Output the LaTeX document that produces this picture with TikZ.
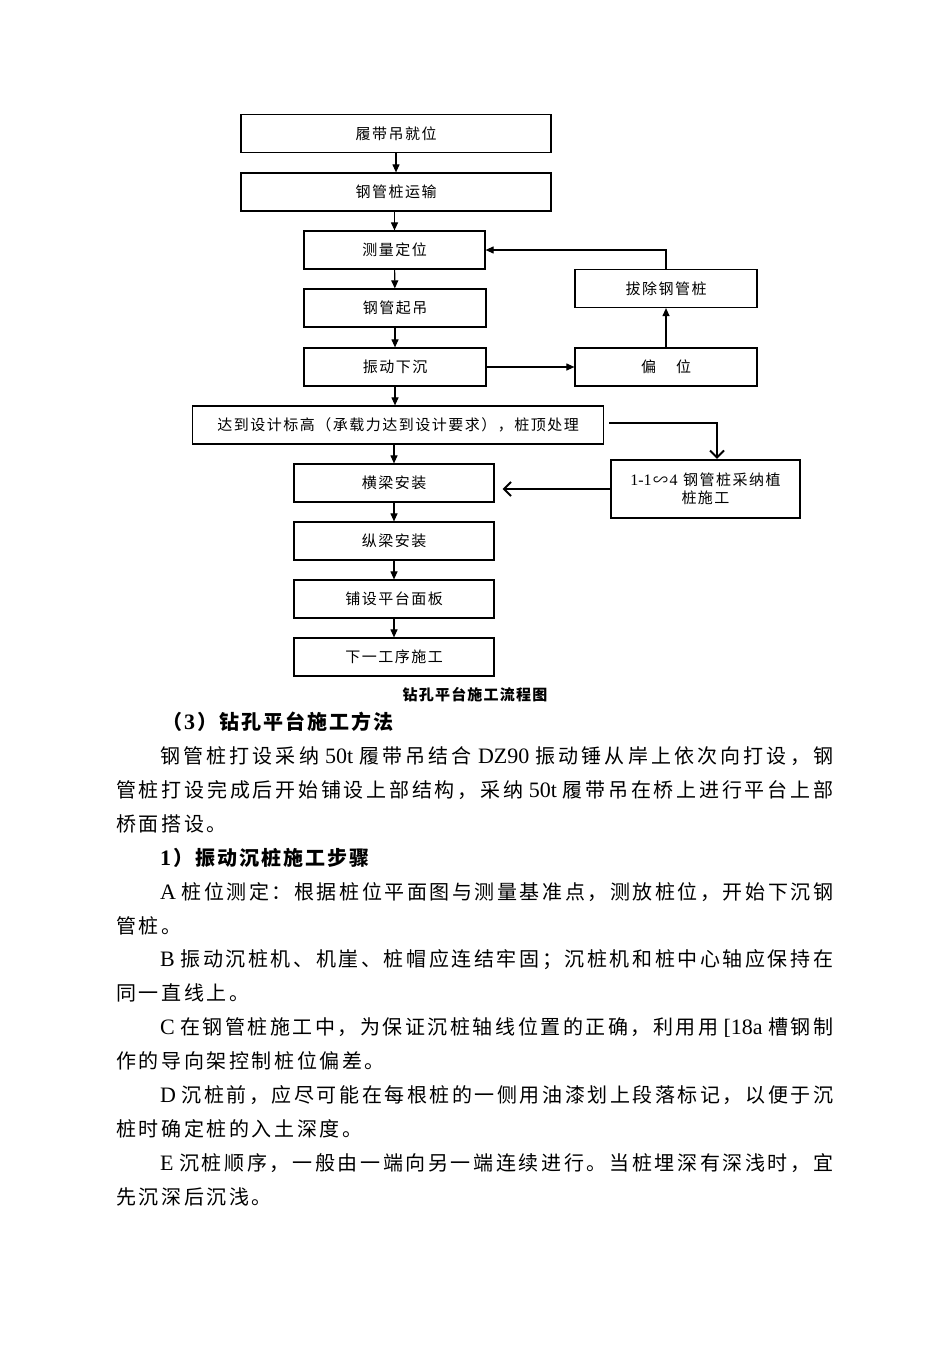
\documentclass[tikz,border=0pt]{standalone}
\usepackage{fontspec}
\setmainfont{Noto Sans CJK SC}
\newfontfamily\lat{Liberation Serif}
\newcommand\latx[1]{{\lat\fontsize{22}{24}\selectfont #1}}
\usetikzlibrary{arrows.meta}
\makeatletter
\def\spreadline#1{\spr@a#1\spr@end}
\def\spr@a#1{#1\spr@b}
\def\spr@endm{\spr@end}
\def\spr@b#1{\def\spr@tmp{#1}\ifx\spr@tmp\spr@endm\else\spreadglue#1\expandafter\spr@b\fi}
\makeatother
\newcommand\gapline[2]{{\def\spreadglue{\hskip#1\relax}\spreadline{#2}}}
\newcommand\jline[2]{\hbox to #1{\def\spreadglue{\hskip0pt plus 1fil\relax}\spreadline{#2}}}
\tikzset{
  box/.style={draw, line width=1.2pt, minimum height=38pt, inner sep=0pt,
    font=\fontsize{15}{19}\selectfont, align=center},
  arr/.style={line width=1.1pt, -{Triangle[length=8pt,width=7pt]}},
  barb/.style={line width=1.8pt, -{Straight Barb[length=7pt,width=14pt,line width=2pt]}},
  txt/.style={anchor=base west, inner sep=0pt, font=\fontsize{20}{24}\selectfont},
  head/.style={anchor=base west, inner sep=0pt, font=\fontsize{20}{24}\selectfont\bfseries},
}
\begin{document}
\begin{tikzpicture}[x=1pt,y=-1pt]
\useasboundingbox[fill=white] (0,0) rectangle (950,1346);
% main column
\node[box, minimum width=310pt] (b1) at (396,133.5) {\gapline{1.5pt}{履带吊就位}};
\node[box, minimum width=310pt] (b2) at (396,192) {\gapline{1.5pt}{钢管桩运输}};
\node[box, minimum width=181pt] (b3) at (394.5,250) {\gapline{1.5pt}{测量定位}};
\node[box, minimum width=182pt] (b4) at (395,308) {\gapline{1.5pt}{钢管起吊}};
\node[box, minimum width=182pt] (b5) at (395,367) {\gapline{1.5pt}{振动下沉}};
\node[box, minimum width=411pt] (b6) at (398,425) {\gapline{1.5pt}{达到设计标高（承载力达到设计要求），桩顶处理}};
\node[box, minimum width=200pt] (b7) at (394,483) {\gapline{1.5pt}{横梁安装}};
\node[box, minimum width=200pt] (b8) at (394,541) {\gapline{1.5pt}{纵梁安装}};
\node[box, minimum width=200pt] (b9) at (394,599) {\gapline{1.5pt}{铺设平台面板}};
\node[box, minimum width=200pt] (b10) at (394,657) {\gapline{1.5pt}{下一工序施工}};
% right column
\node[box, minimum width=182pt] (r1) at (666,288.5) {\gapline{1.5pt}{拔除钢管桩}};
\node[box, minimum width=182pt] (r2) at (666,367) {偏\hspace{20pt}位};
\node[box, line width=2.2pt, minimum width=189pt, minimum height=58pt] (r3) at (705.5,489)
  {\gapline{1.5pt}{{\latx{\fontsize{16}{19}\selectfont 1-1}}∽{\latx{\fontsize{16}{19}\selectfont 4}\kern4pt}钢管桩采纳植}\\[-1pt]\gapline{1.5pt}{桩施工}};
% connectors
\draw[arr] (b1) -- (b2);
\draw[arr] (b2.south -| b3.north) -- (b3.north);
\draw[arr] (b3) -- (b4);
\draw[arr] (b4) -- (b5);
\draw[arr] (b5.south) -- (b5.south |- b6.north);
\draw[arr] (b6.south -| b7.north) -- (b7.north);
\draw[arr] (b7) -- (b8);
\draw[arr] (b8) -- (b9);
\draw[arr] (b9) -- (b10);
\draw[arr] (b5.east) -- (r2.west);
\draw[arr] (r2) -- (r1);
\draw[arr] (r1.north) |- (b3.east);
\coordinate (c1) at ([yshift=2pt]b6.east);
\draw[barb, shorten <=5pt] (c1) -| ([xshift=11.5pt]r3.north);
\draw[barb, shorten >=8pt] (r3.west) -- (r3.west -| b7.east);
% caption
\node[inner sep=0pt, font=\fontsize{15}{18}\selectfont\bfseries] (cap) at (475,695) {\gapline{1.2pt}{钻孔平台施工流程图}};
% text
\node[head] (l0) at (162,729.6) {\gapline{2pt}{（{\latx{3}}）钻孔平台施工方法}};
\node[txt] (l1) at (160,763.5) {\jline{673pt}{钢管桩打设采纳{\kern3pt\latx{50t}\kern3pt}履带吊结合{\kern3pt\latx{DZ90}\kern3pt}振动锤从岸上依次向打设，钢}};
\node[txt] (l2) at (116,797.4) {\jline{717pt}{管桩打设完成后开始铺设上部结构，采纳{\kern3pt\latx{50t}\kern3pt}履带吊在桥上进行平台上部}};
\node[txt] (l3) at (116,831.3) {\gapline{2.6pt}{桥面搭设。}};
\node[head] (l4) at (160,865.2) {\gapline{2pt}{{\latx{1}}）振动沉桩施工步骤}};
\node[txt] (l5) at (160,899.1) {\jline{673pt}{{\latx{A}\kern3pt}桩位测定：根据桩位平面图与测量基准点，测放桩位，开始下沉钢}};
\node[txt] (l6) at (116,933.0) {\gapline{2.6pt}{管桩。}};
\node[txt] (l7) at (160,966.9) {\jline{673pt}{{\latx{B}\kern3pt}振动沉桩机、机崖、桩帽应连结牢固；沉桩机和桩中心轴应保持在}};
\node[txt] (l8) at (116,1000.8) {\gapline{2.6pt}{同一直线上。}};
\node[txt] (l9) at (160,1034.7) {\jline{673pt}{{\latx{C}\kern3pt}在钢管桩施工中，为保证沉桩轴线位置的正确，利用用{\kern3pt\latx{[18a}\kern3pt}槽钢制}};
\node[txt] (l10) at (116,1068.6) {\gapline{2.6pt}{作的导向架控制桩位偏差。}};
\node[txt] (l11) at (160,1102.5) {\jline{673pt}{{\latx{D}\kern3pt}沉桩前，应尽可能在每根桩的一侧用油漆划上段落标记，以便于沉}};
\node[txt] (l12) at (116,1136.4) {\gapline{2.6pt}{桩时确定桩的入土深度。}};
\node[txt] (l13) at (160,1170.3) {\jline{673pt}{{\latx{E}\kern3pt}沉桩顺序，一般由一端向另一端连续进行。当桩埋深有深浅时，宜}};
\node[txt] (l14) at (116,1204.2) {\gapline{2.6pt}{先沉深后沉浅。}};
\end{tikzpicture}
\end{document}
